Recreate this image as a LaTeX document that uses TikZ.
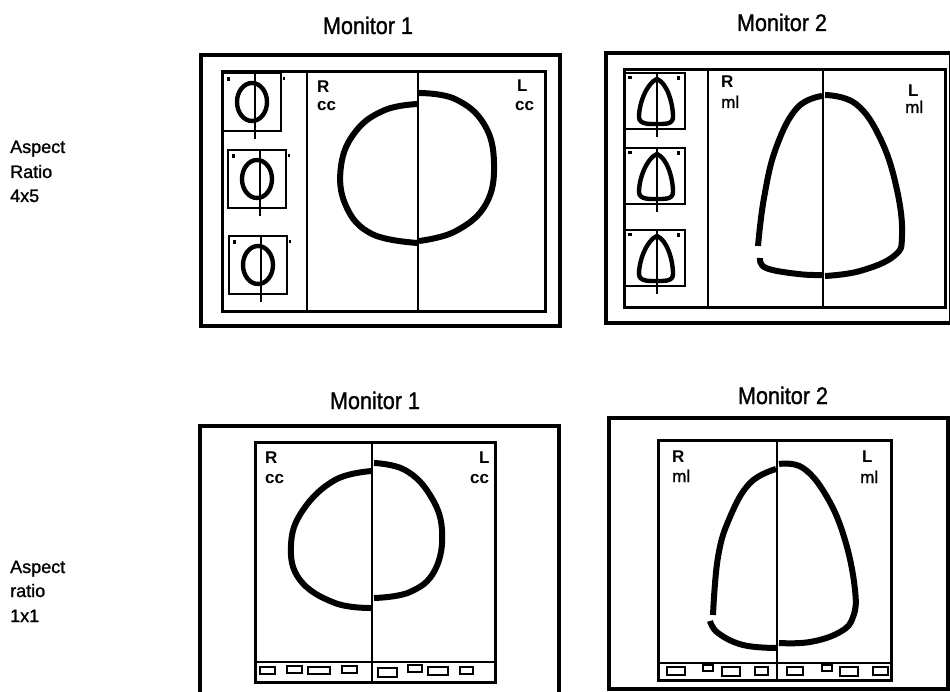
\documentclass[tikz,border=0pt]{standalone}
\usepackage{graphicx}
\usepackage{fontspec}
\setmainfont{Liberation Sans}
\newfontfamily\medfont{Liberation Sans}[FakeBold=1.2]
\newcommand{\headtext}[1]{\scalebox{0.9}[1]{#1}}
\begin{document}
\begin{tikzpicture}[x=1pt,y=-1pt,
  frame/.style={draw=black,line width=3.2pt},
  inframe/.style={draw=black,line width=3pt},
  midline/.style={draw=black,line width=2.2pt},
  curve/.style={draw=black,line width=6pt},
  tcurve/.style={draw=black,line width=4.4pt},
  tbox/.style={draw=black,line width=2.4pt},
  sbox/.style={draw=black,line width=2.2pt},
  head/.style={font=\medfont\fontsize{24}{24}\selectfont,inner sep=0pt,anchor=base},
  side/.style={font=\medfont\fontsize{18}{18}\selectfont,inner sep=0pt,anchor=base west},
  lab/.style={font=\bfseries\fontsize{17}{17}\selectfont,inner sep=0pt,anchor=base west},
  labm/.style={font=\medfont\fontsize{17}{17}\selectfont,inner sep=0pt,anchor=base west},
  tickmark/.style={fill=black,draw=none}]
\useasboundingbox (0,0) rectangle (950,692);
\clip (0,0) rectangle (950,692);
\fill[white] (0,0) rectangle (950,692);

% ---------- headings ----------
\node[head] (h1) at (368,34) {\headtext{Monitor 1}};
\node[head] (h2) at (782,31) {\headtext{Monitor 2}};
\node[head] (h3) at (375,409) {\headtext{Monitor 1}};
\node[head] (h4) at (783,404) {\headtext{Monitor 2}};
\node[side] (s1a) at (10,153) {Aspect};
\node[side] (s1b) at (10,178) {Ratio};
\node[side] (s1c) at (10,202) {4x5};
\node[side] (s2a) at (10,573) {Aspect};
\node[side] (s2b) at (10,597) {ratio};
\node[side] (s2c) at (10,622) {1x1};

% ---------- top-left monitor ----------
\draw[frame] (201,55) rectangle (560,326);
\draw[inframe] (222,72) rectangle (545,312);
\draw[midline] (307,72) -- (307,312);
\draw[midline] (418,72) -- (418,312);
\node[lab] (r1) at (317,93) {R};
\node[lab] (c1) at (317,111) {cc};
\node[lab] (l1) at (517,92) {L};
\node[lab] (d1) at (515,111) {cc};
\draw[curve] plot[smooth,tension=0.7] coordinates {(418,104) (385,110) (356,131) (341,166) (346,206) (372,234) (418,243)};
\draw[curve] plot[smooth,tension=0.7] coordinates {(419,93) (455,99) (484,124) (494,163) (486,204) (456,231) (419,241)};
% thumbnails (cc)
\foreach \tx/\ty in {223/73, 228/150, 229/236} {
  \draw[tbox] (\tx,\ty) rectangle ++(58,58);
  \draw[tcurve] (\tx+29,\ty+29) ellipse (15 and 19);
  \draw[midline] (\tx+32,\ty) -- (\tx+32,\ty+66);
  \fill[tickmark] (\tx+4,\ty+4) rectangle ++(3,4);
  \fill[tickmark] (\tx+60,\ty+4) rectangle ++(2,3);
}

% ---------- top-right monitor ----------
\draw[frame] (606,53) rectangle (951,323);
\draw[inframe] (624,70) rectangle (945,308);
\draw[midline] (708,70) -- (708,308);
\draw[midline] (823,70) -- (823,308);
\node[lab] (r2) at (721,88) {R};
\node[labm] (c2) at (721,108) {ml};
\node[lab] (l2) at (908,97) {L};
\node[labm] (d2) at (905,113) {ml};
\draw[curve] plot[smooth,tension=0.7] coordinates {(822,96) (797,108) (776,148) (764,198) (758,246)};
\draw[curve] plot[smooth,tension=0.7] coordinates {(760,258) (766,268) (798,274) (822,275)};
\draw[curve] plot[smooth,tension=0.7] coordinates {(825,95) (856,104) (881,140) (897,190) (902,236) (894,256) (860,271) (825,276)};
% thumbnails (ml)
\foreach \tx/\ty in {625/73, 625/148, 625/230} {
  \draw[tbox] (\tx,\ty) rectangle ++(60,56);
  \draw[tcurve] (\tx+32,\ty+6) .. controls (\tx+22,\ty+10) and (\tx+14,\ty+30) .. (\tx+14,\ty+44)
     .. controls (\tx+14,\ty+52) and (\tx+26,\ty+51) .. (\tx+32,\ty+51)
     .. controls (\tx+38,\ty+51) and (\tx+48,\ty+52) .. (\tx+48,\ty+44)
     .. controls (\tx+48,\ty+30) and (\tx+42,\ty+10) .. cycle;
  \draw[midline] (\tx+32,\ty) -- (\tx+32,\ty+64);
  \fill[tickmark] (\tx+3,\ty+3) rectangle ++(4,3);
  \fill[tickmark] (\tx+52,\ty+3) rectangle ++(3,4);
}

% ---------- bottom-left monitor ----------
\draw[frame] (200,700) -- (200,426) -- (559,426) -- (559,700);
\draw[inframe] (255,442) rectangle (495,682);
\draw[midline] (372,442) -- (372,682);
\draw[midline] (255,662) -- (495,662);
\node[lab] (r3) at (265,463) {R};
\node[lab] (c3) at (265,483) {cc};
\node[lab] (l3) at (479,463) {L};
\node[lab] (d3) at (470,483) {cc};
\draw[curve] plot[smooth,tension=0.7] coordinates {(374,463) (405,470) (430,495) (442,530) (435,570) (410,592) (374,598)};
\draw[curve] plot[smooth,tension=0.7] coordinates {(372,471) (335,480) (303,510) (291,545) (300,580) (335,603) (372,608)};
\foreach \a/\b/\c/\d in {260/667/275/674, 287/666/302/673, 308/667/330/674, 342/666/357/673,
                        378/668/397/677, 408/665/422/672, 428/667/448/675, 460/667/473/674}
  \draw[sbox] (\a,\b) rectangle (\c,\d);

% ---------- bottom-right monitor ----------
\draw[frame] (609,418) rectangle (948,689);
\draw[inframe] (658,440) rectangle (891,680);
\draw[midline] (777,440) -- (777,680);
\draw[midline] (658,663) -- (891,663);
\node[lab] (r4) at (672,462) {R};
\node[labm] (c4) at (672,482) {ml};
\node[lab] (l4) at (862,462) {L};
\node[labm] (d4) at (860,483) {ml};
\draw[curve] plot[smooth,tension=0.7] coordinates {(776,469) (750,483) (730,517) (718,557) (713,615)};
\draw[curve] plot[smooth,tension=0.7] coordinates {(710,621) (718,633) (743,645) (776,648)};
\draw[curve] plot[smooth,tension=0.7] coordinates {(779,464) (803,468) (827,497) (845,540) (855,590) (853,617) (840,632) (810,642) (779,643)};
\foreach \a/\b/\c/\d in {667/667/685/675, 703/665/713/671, 722/667/740/676, 755/667/768/675,
                        787/667/803/675, 822/665/832/671, 840/667/858/676, 873/667/888/675}
  \draw[sbox] (\a,\b) rectangle (\c,\d);
\end{tikzpicture}
\end{document}
